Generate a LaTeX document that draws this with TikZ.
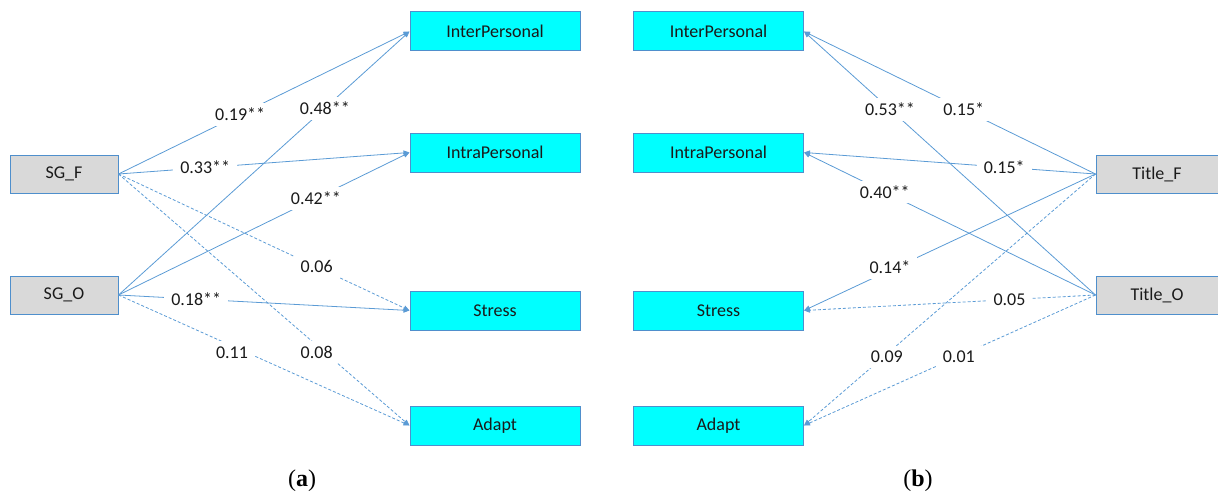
\documentclass[tikz,border=0pt]{standalone}
\usepackage{fontspec}
\setmainfont{Carlito}
\newfontfamily\capfont{Liberation Serif}
\usetikzlibrary{arrows.meta}
\definecolor{ln}{HTML}{5B9BD5}
\definecolor{bd}{HTML}{4F8FCC}
\definecolor{gr}{HTML}{D9D9D9}
\definecolor{cy}{HTML}{00FFFF}
\definecolor{tx}{HTML}{1A1A1A}
\begin{document}
\begin{tikzpicture}[x=1pt,y=-1pt,
  tgt/.style={draw=bd, line width=1pt, fill=cy, minimum width=170pt, minimum height=39pt, inner sep=0pt, text=tx, font=\fontsize{18}{21}\selectfont},
  src/.style={draw=bd, line width=1pt, fill=gr, minimum width=108pt, minimum height=38pt, inner sep=0pt, text=tx, font=\fontsize{18}{21}\selectfont},
  con/.style={draw=ln, line width=0.8pt, -{Triangle[length=6pt,width=5pt]}},
  dsh/.style={con, dash pattern=on 3pt off 2pt},
  lbl/.style={fill=white, inner xsep=7pt, inner ysep=5pt, text=tx, font=\fontsize{18}{21}\selectfont},
  captxt/.style={font=\capfont\fontsize{24}{28}\selectfont, text=black}]
\useasboundingbox (0,0) rectangle (1218,495);
% left panel
\node[src] (sgf) at (64,174) {SG\_F};
\node[src] (sgo) at (64,295) {SG\_O};
\node[tgt] (ia) at (495,31.5) {InterPersonal};
\node[tgt] (ra) at (495,152.5) {IntraPersonal};
\node[tgt] (sa) at (495,310.5) {Stress};
\node[tgt] (aa) at (495,425.5) {Adapt};
% right panel
\node[src, minimum width=124pt] (tf) at (1158,174) {};
\node[src, minimum width=124pt] (to) at (1158,295) {};
\node[text=tx, font=\fontsize{18}{21}\selectfont] (tft) at (1157,174) {Title\_F};
\node[text=tx, font=\fontsize{18}{21}\selectfont] (tot) at (1157,295) {Title\_O};
\node[tgt] (ib) at (718.5,31.5) {InterPersonal};
\node[tgt] (rb) at (718.5,152.5) {IntraPersonal};
\node[tgt] (sb) at (718.5,310.5) {Stress};
\node[tgt] (ab) at (718.5,425.5) {Adapt};
% left edges
\draw[con] (sgf.east) -- coordinate[pos=0.418] (l1) (ia.west);
\draw[con] (sgo.east) -- coordinate[pos=0.709] (l2) (ia.west);
\draw[con] (sgf.east) -- coordinate[pos=0.298] (l3) (ra.west);
\draw[con] (sgo.east) -- coordinate[pos=0.678] (l4) (ra.west);
\draw[dsh] (sgf.east) -- coordinate[pos=0.681] (l5) (sa.west);
\draw[con] (sgo.east) -- coordinate[pos=0.267] (l6) (sa.west);
\draw[dsh] (sgo.east) -- coordinate[pos=0.39] (l7) (aa.west);
\draw[dsh] (sgf.east) -- coordinate[pos=0.681] (l8) (aa.west);
% right edges
\draw[con] (tf.west) -- coordinate[pos=0.452] (r1) (ib.east);
\draw[con] (to.west) -- coordinate[pos=0.705] (r2) (ib.east);
\draw[con] (tf.west) -- coordinate[pos=0.313] (r3) (rb.east);
\draw[con] (to.west) -- coordinate[pos=0.723] (r4) (rb.east);
\draw[con] (tf.west) -- coordinate[pos=0.705] (r5) (sb.east);
\draw[dsh] (to.west) -- coordinate[pos=0.295] (r6) (sb.east);
\draw[dsh] (tf.west) -- coordinate[pos=0.716] (r7) (ab.east);
\draw[dsh] (to.west) -- coordinate[pos=0.469] (r8) (ab.east);
% labels
\node[lbl] (tl1) at (l1) {0.19**};
\node[lbl] (tl2) at (l2) {0.48**};
\node[lbl] (tl3) at (l3) {0.33**};
\node[lbl] (tl4) at (l4) {0.42**};
\node[lbl] (tl5) at (l5) {0.06};
\node[lbl] (tl6) at (l6) {0.18**};
\node[lbl] (tl7) at ([yshift=-6.5]l7) {0.11};
\node[lbl] (tl8) at ([yshift=-7]l8) {0.08};
\node[lbl] (tr1) at (r1) {0.15*};
\node[lbl] (tr2) at (r2) {0.53**};
\node[lbl] (tr3) at (r3) {0.15*};
\node[lbl] (tr4) at (r4) {0.40**};
\node[lbl] (tr5) at ([yshift=3]r5) {0.14*};
\node[lbl] (tr6) at (r6) {0.05};
\node[lbl] (tr7) at ([yshift=-3]r7) {0.09};
\node[lbl] (tr8) at ([yshift=-1]r8) {0.01};
% captions
\node[captxt] (ca) at (302,481) {(\textbf{a})};
\node[captxt] (cb) at (918,481) {(\textbf{b})};
\end{tikzpicture}
\end{document}
